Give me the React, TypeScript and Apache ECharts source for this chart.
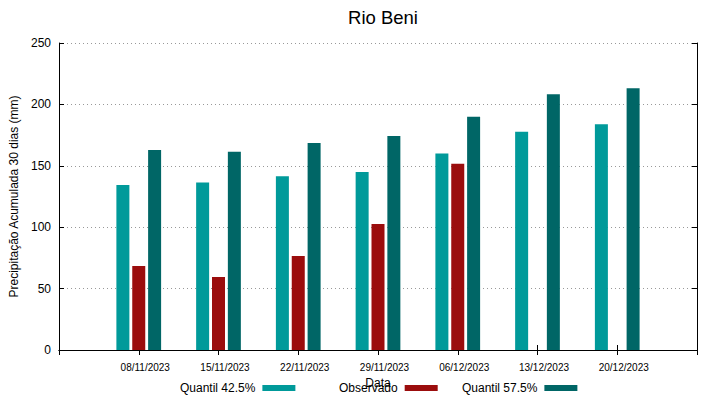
import React, { useEffect, useRef } from "react";
import * as echarts from "echarts";

const categories = ["", "08/11/2023", "15/11/2023", "22/11/2023", "29/11/2023", "06/12/2023", "13/12/2023", "20/12/2023", ""];
const quantil425 = [null, 134.4, 136.3, 141.4, 145, 160.1, 177.8, 183.8, null];
const observado = [null, 68.4, 59.4, 76.5, 102.6, 151.7, null, null, null];
const quantil575 = [null, 162.9, 161.5, 168.6, 174.3, 190, 208.2, 213.1, null];
const yTicks = [0, 50, 100, 150, 200, 250];

const FONT = "Liberation Sans, Arial, sans-serif";

export default function App() {
  const ref = useRef<HTMLDivElement>(null);
  useEffect(() => {
    if (!ref.current) return;
    const chart = echarts.init(ref.current, null, { renderer: "svg" });
    const legendBase = {
      top: 382,
      align: "right" as const,
      itemWidth: 33,
      itemHeight: 6,
      icon: "rect",
      textStyle: { fontFamily: FONT, fontSize: 12, color: "#000", padding: [0, 2, 0, 0] },
      padding: 0,
    };
    chart.setOption({
      animation: false,
      backgroundColor: "#fff",
      textStyle: { fontFamily: FONT },
      title: {
        text: "Rio Beni",
        left: 378,
        textAlign: "center",
        top: 3,
        textStyle: { fontFamily: FONT, fontSize: 18.5, fontWeight: "normal", color: "#000" },
      },
      legend: [
        { ...legendBase, left: 180, data: ["Quantil 42.5%"] },
        { ...legendBase, left: 339, data: ["Observado"] },
        { ...legendBase, left: 462, data: ["Quantil 57.5%"] },
      ],
      grid: { left: 59, right: 22, top: 43, bottom: 49, containLabel: false },
      xAxis: [
        {
          type: "category",
          data: categories,
          boundaryGap: false,
          position: "bottom",
          name: "Data",
          nameLocation: "middle",
          nameGap: 21,
          nameTextStyle: { fontFamily: FONT, fontSize: 12, color: "#000" },
          axisLine: { lineStyle: { color: "#000", width: 1 } },
          axisTick: { inside: true, length: 5, lineStyle: { color: "#000" } },
          axisLabel: {
            interval: 0,
            fontFamily: FONT,
            fontSize: 10,
            color: "#000",
            margin: 12,
            padding: [0, 0, 0, 13],
          },
          splitLine: { show: false },
        },
        {
          type: "category",
          data: categories,
          boundaryGap: false,
          position: "top",
          axisLine: { lineStyle: { color: "#000", width: 1 } },
          axisTick: { inside: true, length: 5, interval: 0, lineStyle: { color: "#000" } },
          axisLabel: { show: false },
          splitLine: { show: false },
        },
      ],
      yAxis: [
        {
          type: "value",
          min: 0,
          max: 250,
          interval: 50,
          position: "left",
          name: "Precipitação Acumulada 30 dias (mm)",
          nameLocation: "middle",
          nameGap: 39,
          nameRotate: 90,
          nameTextStyle: { fontFamily: FONT, fontSize: 12, color: "#000" },
          axisLine: { show: true, lineStyle: { color: "#000", width: 1 } },
          axisTick: { show: true, inside: true, length: 5, lineStyle: { color: "#000" } },
          axisLabel: {
            fontFamily: FONT,
            fontSize: 12,
            color: "#000",
            margin: 8,
            formatter: (v: number) => (yTicks.includes(v) ? String(v) : ""),
          },
          splitLine: { show: true, lineStyle: { color: "#999", type: [1, 3], width: 1 } },
        },
        {
          type: "value",
          min: 0,
          max: 250,
          interval: 50,
          position: "right",
          axisLine: { show: true, lineStyle: { color: "#000", width: 1 } },
          axisTick: { show: true, inside: true, length: 5, lineStyle: { color: "#000" } },
          axisLabel: { show: false },
          splitLine: { show: false },
        },
      ],
      series: [
        {
          name: "Quantil 42.5%",
          type: "bar",
          data: quantil425,
          barWidth: 13,
          barGap: "22%",
          itemStyle: { color: "#009a9a" },
        },
        {
          name: "Observado",
          type: "bar",
          data: observado,
          barWidth: 13,
          barGap: "22%",
          itemStyle: { color: "#9b0d0d" },
        },
        {
          name: "Quantil 57.5%",
          type: "bar",
          data: quantil575,
          barWidth: 13,
          barGap: "22%",
          itemStyle: { color: "#006666" },
        },
      ],
    });
    return () => chart.dispose();
  }, []);
  return (
    <div
      ref={ref}
      style={{ position: "fixed", left: 0, top: 0, width: 719, height: 399 }}
    />
  );
}
